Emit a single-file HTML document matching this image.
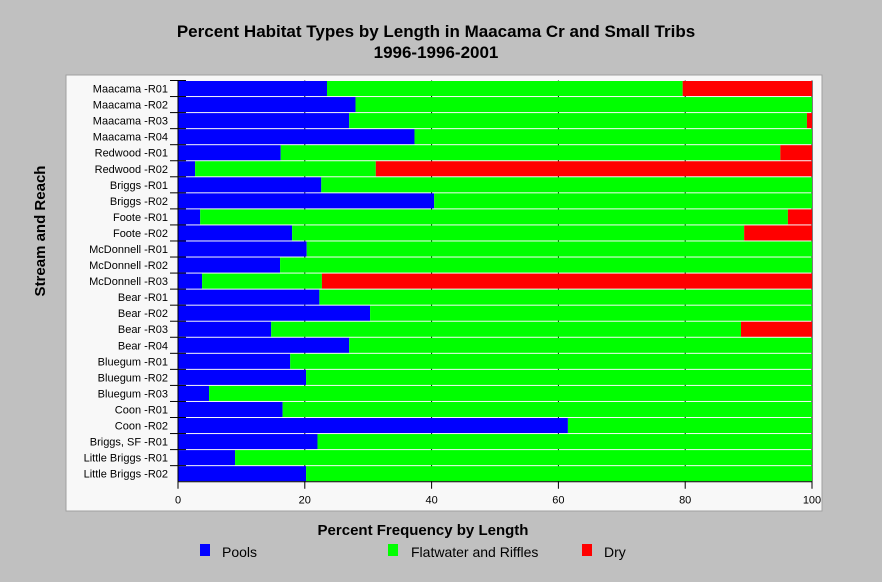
<!DOCTYPE html>
<html><head><meta charset="utf-8"><style>
body{margin:0;background:#c0c0c0;font-family:"Liberation Sans",sans-serif}
svg{display:block}
</style></head><body>
<svg id="chart" width="882" height="582" xmlns="http://www.w3.org/2000/svg">
<rect x="0" y="0" width="882" height="582" fill="#c0c0c0"/>
<text x="436" y="37" text-anchor="middle" font-size="17" font-weight="bold">Percent Habitat Types by Length in Maacama Cr and Small Tribs</text>
<text x="436" y="58" text-anchor="middle" font-size="17" font-weight="bold">1996-1996-2001</text>
<rect x="66" y="75" width="756" height="436" fill="#f8f8f8" stroke="#a0a0a0"/>
<g id="grid"></g>
<g id="bars"></g>
<g id="axes"></g>
<text transform="translate(45,231) rotate(-90)" text-anchor="middle" font-size="15" font-weight="bold">Stream and Reach</text>
<text x="423" y="535" text-anchor="middle" font-size="15" font-weight="bold">Percent Frequency by Length</text>
<g>
<g><rect x="200" y="544" width="10" height="12" fill="#0000ff"/><text x="222" y="557" font-size="14">Pools</text></g>
<g><rect x="388" y="544" width="10" height="12" fill="#00ff00"/><text x="411" y="557" font-size="14">Flatwater and Riffles</text></g>
<g><rect x="582" y="544" width="10" height="12" fill="#ff0000"/><text x="604" y="557" font-size="14">Dry</text></g>
</g>
</svg>
<script>
const categories=["Maacama -R01","Maacama -R02","Maacama -R03","Maacama -R04","Redwood -R01","Redwood -R02","Briggs -R01","Briggs -R02","Foote -R01","Foote -R02","McDonnell -R01","McDonnell -R02","McDonnell -R03","Bear -R01","Bear -R02","Bear -R03","Bear -R04","Bluegum -R01","Bluegum -R02","Bluegum -R03","Coon -R01","Coon -R02","Briggs, SF -R01","Little Briggs -R01","Little Briggs -R02"];
const pools=[23.5,28,27,37.3,16.2,2.7,22.6,40.4,3.5,18,20.3,16.1,3.8,22.3,30.3,14.7,27,17.7,20.2,4.9,16.5,61.5,22,9,20.2];
const dry=[20.4,0,0.8,0,5,68.8,0,0,3.8,10.7,0,0,77.3,0,0,11.2,0,0,0,0,0,0,0,0,0];
const flat=pools.map((p,i)=>100-p-dry[i]);
const xTicks=[0,20,40,60,80,100];
const X0=178,X1=812,Y0=80.5,Y1=481.7;
const NS="http://www.w3.org/2000/svg";
const xs=v=>X0+(X1-X0)*v/100;
const rowH=(Y1-Y0)/categories.length;
const ys=i=>Y0+i*rowH;
function mk(t,a,p){const e=document.createElementNS(NS,t);for(const k in a)e.setAttribute(k,a[k]);p.appendChild(e);return e;}
const grid=document.getElementById('grid'),bars=document.getElementById('bars'),axes=document.getElementById('axes');
xTicks.forEach(t=>{
 const l=mk('line',{x1:xs(t),x2:xs(t),y1:Y0,y2:Y1+7,stroke:'#000'},grid);
 
 
 const tx=mk('text',{x:xs(t),y:Y1+22,'text-anchor':'middle','font-size':11},axes);
 tx.textContent=t;
 
 
});
categories.forEach((c,i)=>{
 const y=ys(i)+0.5,h=rowH-1;
 const segs=[[0,pools[i],'#0000ff','pools'],[pools[i],flat[i],'#00ff00','flatwater'],[pools[i]+flat[i],dry[i],'#ff0000','dry']];
 segs.forEach(s=>{ if(s[1]<=0)return;
  const r=mk('rect',{x:xs(s[0]),y:y,width:xs(s[0]+s[1])-xs(s[0]),height:h,fill:s[2]},bars);
  
  
 });
 const tk=mk('line',{x1:X0-8,x2:X0+8,y1:ys(i),y2:ys(i),stroke:'#000'},axes);
 
 
 const tx=mk('text',{x:X0-10,y:ys(i)+rowH/2+4,'text-anchor':'end','font-size':11},axes);
 tx.textContent=c;
 
 
});
const ax=mk('line',{x1:X0,x2:X0,y1:Y0,y2:Y1,stroke:'#000'},axes);


const bx=mk('line',{x1:X0,x2:X1,y1:Y1,y2:Y1,stroke:'#000'},axes);


</script>
</body></html>
